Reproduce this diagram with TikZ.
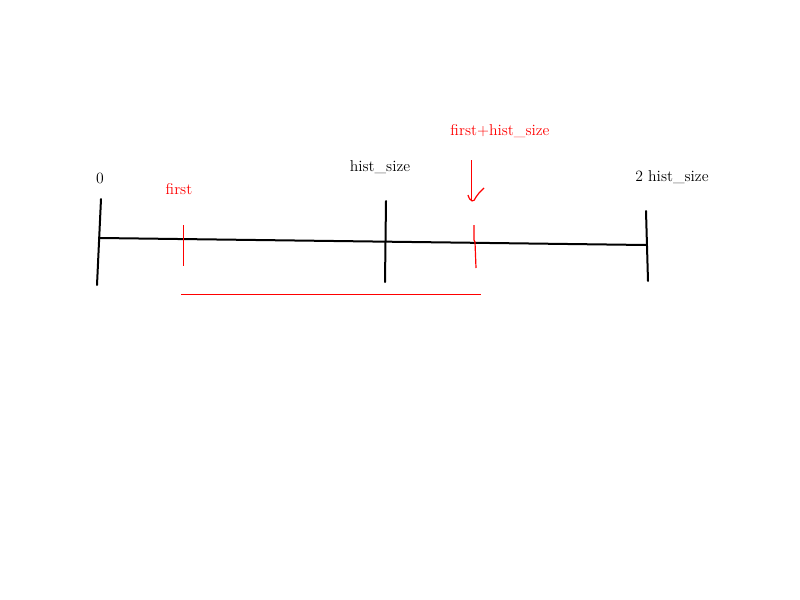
\documentclass[tikz,border=0pt]{standalone}
\begin{document}
\begin{tikzpicture}[x=0.75pt,y=-0.75pt,
    axis/.style={line width=1.5pt,black,line cap=round},
    mark red/.style={red,line width=0.9pt},
    lbl/.style={inner sep=1pt,font=\fontsize{11.8}{14}\selectfont}]
            \useasboundingbox (0,0) rectangle (800,600);
            % axis and its ends
            \coordinate (L) at (100,238);
            \coordinate (R) at (646,245);
            \draw[axis] (L) -- (R);
            \coordinate (z1) at (101,199); \coordinate (z2) at (97,285);
            \coordinate (h1) at (386,201); \coordinate (h2) at (385,282);
            \coordinate (t1) at (646,211); \coordinate (t2) at (648,281);
            \draw[axis] (z1) -- (z2);
            \draw[axis] (h1) -- (h2);
            \draw[axis] (t1) -- (t2);
            \node[lbl] (zero) at (100,178) {0};
            \node[lbl] (hs) at (380,167) {hist\_size};
            \node[lbl] (ths) at (672,177) {2 hist\_size};
            % red marks
            \coordinate (f1) at (183,225); \coordinate (f2) at (183,266);
            \draw[red,line width=0.6pt] (f1) -- (f2);
            \node[lbl,red] (first) at (179,189) {first};
            \coordinate (g1) at (474,225); \coordinate (g2) at (476,268);
            \draw[mark red] (g1) -- (474,240) -- (475,242) -- (g2);
            \node[lbl,red] (fhs) at (500,131) {first+hist\_size};
            \coordinate (b1) at (181,294); \coordinate (b2) at (481,294);
            \draw[red,line width=0.6pt] (b1) -- (b2);
            % hand drawn arrow
            \coordinate (a1) at (471,160); \coordinate (a2) at (471,200);
            \draw[red,line width=0.6pt] (a1) -- (a2);
            \draw[mark red] (468,195) .. controls (470,202) and (474,203) .. (476,197) -- (479,193) -- (484,188);
            \end{tikzpicture}
\end{document}
